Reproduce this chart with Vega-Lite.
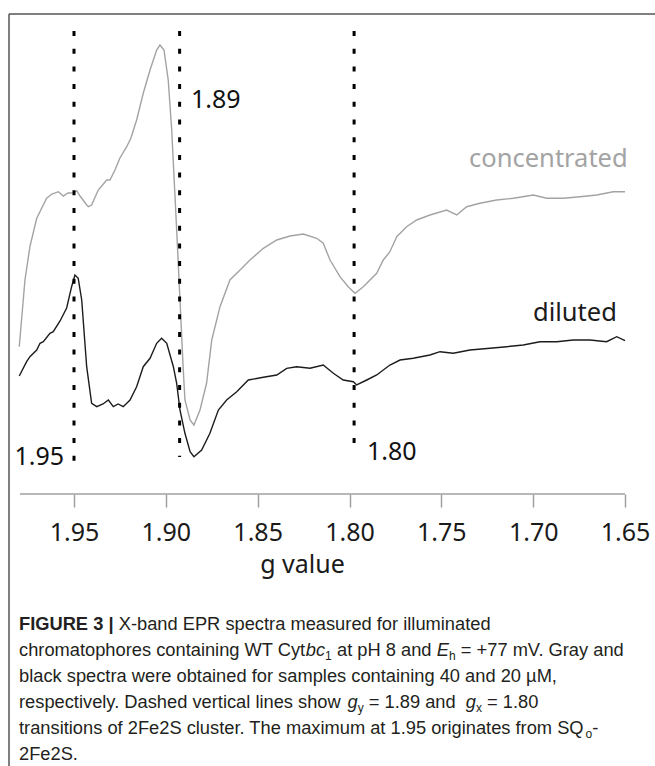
{
  "$schema": "https://vega.github.io/schema/vega-lite/v6.json",
  "width": 646,
  "height": 752,
  "autosize": {"type": "none"},
  "padding": {"left": 9, "top": 14, "right": 0, "bottom": 0},
  "background": "white",
  "config": {"view": {"stroke": null}},
  "datasets": {
    "spectra": [
      {"sample": "concentrated", "g": 1.9798, "intensity": 147.3},
      {"sample": "concentrated", "g": 1.9767, "intensity": 214},
      {"sample": "concentrated", "g": 1.9740, "intensity": 247.3},
      {"sample": "concentrated", "g": 1.9703, "intensity": 275.7},
      {"sample": "concentrated", "g": 1.9649, "intensity": 295.7},
      {"sample": "concentrated", "g": 1.9620, "intensity": 300},
      {"sample": "concentrated", "g": 1.9585, "intensity": 302.3},
      {"sample": "concentrated", "g": 1.9558, "intensity": 298},
      {"sample": "concentrated", "g": 1.9533, "intensity": 301},
      {"sample": "concentrated", "g": 1.9500, "intensity": 301.3},
      {"sample": "concentrated", "g": 1.9485, "intensity": 303.3},
      {"sample": "concentrated", "g": 1.9467, "intensity": 298},
      {"sample": "concentrated", "g": 1.9431, "intensity": 289},
      {"sample": "concentrated", "g": 1.9422, "intensity": 287.3},
      {"sample": "concentrated", "g": 1.9404, "intensity": 289},
      {"sample": "concentrated", "g": 1.9368, "intensity": 304},
      {"sample": "concentrated", "g": 1.9322, "intensity": 314},
      {"sample": "concentrated", "g": 1.9304, "intensity": 314},
      {"sample": "concentrated", "g": 1.9277, "intensity": 324},
      {"sample": "concentrated", "g": 1.9250, "intensity": 336},
      {"sample": "concentrated", "g": 1.9213, "intensity": 347.3},
      {"sample": "concentrated", "g": 1.9190, "intensity": 356},
      {"sample": "concentrated", "g": 1.9159, "intensity": 374},
      {"sample": "concentrated", "g": 1.9123, "intensity": 400.7},
      {"sample": "concentrated", "g": 1.9086, "intensity": 424},
      {"sample": "concentrated", "g": 1.9050, "intensity": 444},
      {"sample": "concentrated", "g": 1.9032, "intensity": 449},
      {"sample": "concentrated", "g": 1.9010, "intensity": 444},
      {"sample": "concentrated", "g": 1.8987, "intensity": 414},
      {"sample": "concentrated", "g": 1.8968, "intensity": 364},
      {"sample": "concentrated", "g": 1.8950, "intensity": 297.3},
      {"sample": "concentrated", "g": 1.8941, "intensity": 264},
      {"sample": "concentrated", "g": 1.8923, "intensity": 194},
      {"sample": "concentrated", "g": 1.8905, "intensity": 124},
      {"sample": "concentrated", "g": 1.8896, "intensity": 94},
      {"sample": "concentrated", "g": 1.8868, "intensity": 74},
      {"sample": "concentrated", "g": 1.8847, "intensity": 69},
      {"sample": "concentrated", "g": 1.8814, "intensity": 84},
      {"sample": "concentrated", "g": 1.8778, "intensity": 111},
      {"sample": "concentrated", "g": 1.8750, "intensity": 154},
      {"sample": "concentrated", "g": 1.8705, "intensity": 187.3},
      {"sample": "concentrated", "g": 1.8651, "intensity": 214},
      {"sample": "concentrated", "g": 1.8596, "intensity": 224},
      {"sample": "concentrated", "g": 1.8542, "intensity": 234},
      {"sample": "concentrated", "g": 1.8469, "intensity": 245.7},
      {"sample": "concentrated", "g": 1.8396, "intensity": 254},
      {"sample": "concentrated", "g": 1.8324, "intensity": 258},
      {"sample": "concentrated", "g": 1.8252, "intensity": 260},
      {"sample": "concentrated", "g": 1.8179, "intensity": 255.7},
      {"sample": "concentrated", "g": 1.8143, "intensity": 250.7},
      {"sample": "concentrated", "g": 1.8106, "intensity": 234},
      {"sample": "concentrated", "g": 1.8052, "intensity": 217.3},
      {"sample": "concentrated", "g": 1.8007, "intensity": 207.3},
      {"sample": "concentrated", "g": 1.7970, "intensity": 200.7},
      {"sample": "concentrated", "g": 1.7925, "intensity": 207.3},
      {"sample": "concentrated", "g": 1.7852, "intensity": 220.7},
      {"sample": "concentrated", "g": 1.7816, "intensity": 234},
      {"sample": "concentrated", "g": 1.7780, "intensity": 242.3},
      {"sample": "concentrated", "g": 1.7743, "intensity": 257.3},
      {"sample": "concentrated", "g": 1.7689, "intensity": 267.3},
      {"sample": "concentrated", "g": 1.7634, "intensity": 274},
      {"sample": "concentrated", "g": 1.7562, "intensity": 279},
      {"sample": "concentrated", "g": 1.7471, "intensity": 284},
      {"sample": "concentrated", "g": 1.7416, "intensity": 279},
      {"sample": "concentrated", "g": 1.7362, "intensity": 287.3},
      {"sample": "concentrated", "g": 1.7290, "intensity": 290.7},
      {"sample": "concentrated", "g": 1.7199, "intensity": 294},
      {"sample": "concentrated", "g": 1.7108, "intensity": 295.7},
      {"sample": "concentrated", "g": 1.6999, "intensity": 299},
      {"sample": "concentrated", "g": 1.6926, "intensity": 295.7},
      {"sample": "concentrated", "g": 1.6836, "intensity": 295.7},
      {"sample": "concentrated", "g": 1.6745, "intensity": 297.3},
      {"sample": "concentrated", "g": 1.6654, "intensity": 299},
      {"sample": "concentrated", "g": 1.6564, "intensity": 302.3},
      {"sample": "concentrated", "g": 1.6500, "intensity": 302.3},
      {"sample": "diluted", "g": 1.9798, "intensity": 118},
      {"sample": "diluted", "g": 1.9758, "intensity": 132.3},
      {"sample": "diluted", "g": 1.9740, "intensity": 137.3},
      {"sample": "diluted", "g": 1.9703, "intensity": 144},
      {"sample": "diluted", "g": 1.9685, "intensity": 150.7},
      {"sample": "diluted", "g": 1.9667, "intensity": 152.3},
      {"sample": "diluted", "g": 1.9631, "intensity": 160.7},
      {"sample": "diluted", "g": 1.9613, "intensity": 162.3},
      {"sample": "diluted", "g": 1.9576, "intensity": 173},
      {"sample": "diluted", "g": 1.9540, "intensity": 186},
      {"sample": "diluted", "g": 1.9513, "intensity": 207.3},
      {"sample": "diluted", "g": 1.9495, "intensity": 219},
      {"sample": "diluted", "g": 1.9477, "intensity": 215.7},
      {"sample": "diluted", "g": 1.9458, "intensity": 194},
      {"sample": "diluted", "g": 1.9431, "intensity": 127.3},
      {"sample": "diluted", "g": 1.9404, "intensity": 90.7},
      {"sample": "diluted", "g": 1.9376, "intensity": 87.3},
      {"sample": "diluted", "g": 1.9342, "intensity": 90},
      {"sample": "diluted", "g": 1.9313, "intensity": 94},
      {"sample": "diluted", "g": 1.9286, "intensity": 87.3},
      {"sample": "diluted", "g": 1.9260, "intensity": 90},
      {"sample": "diluted", "g": 1.9232, "intensity": 87.3},
      {"sample": "diluted", "g": 1.9195, "intensity": 94},
      {"sample": "diluted", "g": 1.9159, "intensity": 107.3},
      {"sample": "diluted", "g": 1.9123, "intensity": 127.3},
      {"sample": "diluted", "g": 1.9086, "intensity": 135.7},
      {"sample": "diluted", "g": 1.9050, "intensity": 150.7},
      {"sample": "diluted", "g": 1.9023, "intensity": 155.7},
      {"sample": "diluted", "g": 1.8995, "intensity": 150.7},
      {"sample": "diluted", "g": 1.8959, "intensity": 127.3},
      {"sample": "diluted", "g": 1.8941, "intensity": 110.7},
      {"sample": "diluted", "g": 1.8923, "intensity": 84},
      {"sample": "diluted", "g": 1.8896, "intensity": 60.7},
      {"sample": "diluted", "g": 1.8868, "intensity": 42.3},
      {"sample": "diluted", "g": 1.8847, "intensity": 37.3},
      {"sample": "diluted", "g": 1.8805, "intensity": 44},
      {"sample": "diluted", "g": 1.8760, "intensity": 60.7},
      {"sample": "diluted", "g": 1.8714, "intensity": 84},
      {"sample": "diluted", "g": 1.8669, "intensity": 94},
      {"sample": "diluted", "g": 1.8614, "intensity": 102.3},
      {"sample": "diluted", "g": 1.8551, "intensity": 114},
      {"sample": "diluted", "g": 1.8469, "intensity": 116.7},
      {"sample": "diluted", "g": 1.8396, "intensity": 119},
      {"sample": "diluted", "g": 1.8342, "intensity": 125.7},
      {"sample": "diluted", "g": 1.8288, "intensity": 127.3},
      {"sample": "diluted", "g": 1.8215, "intensity": 125.7},
      {"sample": "diluted", "g": 1.8143, "intensity": 129},
      {"sample": "diluted", "g": 1.8088, "intensity": 120.7},
      {"sample": "diluted", "g": 1.8034, "intensity": 114},
      {"sample": "diluted", "g": 1.7979, "intensity": 112.3},
      {"sample": "diluted", "g": 1.7961, "intensity": 109},
      {"sample": "diluted", "g": 1.7906, "intensity": 114},
      {"sample": "diluted", "g": 1.7852, "intensity": 119},
      {"sample": "diluted", "g": 1.7780, "intensity": 129},
      {"sample": "diluted", "g": 1.7725, "intensity": 134},
      {"sample": "diluted", "g": 1.7653, "intensity": 135.7},
      {"sample": "diluted", "g": 1.7562, "intensity": 139},
      {"sample": "diluted", "g": 1.7507, "intensity": 142.3},
      {"sample": "diluted", "g": 1.7435, "intensity": 140.7},
      {"sample": "diluted", "g": 1.7344, "intensity": 144},
      {"sample": "diluted", "g": 1.7235, "intensity": 145.7},
      {"sample": "diluted", "g": 1.7144, "intensity": 147.3},
      {"sample": "diluted", "g": 1.7054, "intensity": 149},
      {"sample": "diluted", "g": 1.6963, "intensity": 152.3},
      {"sample": "diluted", "g": 1.6872, "intensity": 152.3},
      {"sample": "diluted", "g": 1.6782, "intensity": 154},
      {"sample": "diluted", "g": 1.6691, "intensity": 154},
      {"sample": "diluted", "g": 1.6600, "intensity": 152.3},
      {"sample": "diluted", "g": 1.6545, "intensity": 157.3},
      {"sample": "diluted", "g": 1.6500, "intensity": 153.3}
    ],
    "markers": [
      {"g": 1.95, "top": 463, "bottom": 30, "label": "1.95", "label_g": 1.9824, "label_y": 29},
      {"g": 1.8925, "top": 463, "bottom": 37, "label": "1.89", "label_g": 1.8863, "label_y": 386},
      {"g": 1.7975, "top": 463, "bottom": 39, "label": "1.80", "label_g": 1.7905, "label_y": 34}
    ],
    "series_labels": [
      {"sample": "concentrated", "g": 1.7349, "intensity": 327.3},
      {"sample": "diluted", "g": 1.7001, "intensity": 173}
    ]
  },
  "layer": [
    {
      "data": {"name": "spectra"},
      "mark": {"type": "line", "strokeWidth": 1.4, "clip": false},
      "encoding": {
        "x": {
          "field": "g",
          "type": "quantitative",
          "scale": {"domain": [1.63367, 1.98539], "reverse": true, "nice": false, "zero": false},
          "axis": {
            "values": [1.95, 1.9, 1.85, 1.8, 1.75, 1.7, 1.65],
            "format": ".2f",
            "domain": false,
            "grid": false,
            "offset": -272,
            "tickSize": 13,
            "tickColor": "#a0a0a0",
            "tickWidth": 1.5,
            "labelFont": "Noto Sans",
            "labelFontSize": 25,
            "labelColor": "#1a1a1a",
            "labelPadding": 33,
            "labelBaseline": "alphabetic",
            "labelFlush": false,
            "labelOverlap": false,
            "title": "g value",
            "titleFont": "Noto Sans",
            "titleFontSize": 25,
            "titleFontWeight": "normal",
            "titleColor": "#1a1a1a",
            "titleX": 293,
            "titleY": 78,
            "titleBaseline": "alphabetic",
            "titleAlign": "center"
          }
        },
        "y": {
          "field": "intensity",
          "type": "quantitative",
          "scale": {"domain": [-272, 480], "nice": false, "zero": false},
          "axis": null
        },
        "color": {
          "field": "sample",
          "type": "nominal",
          "scale": {"domain": ["concentrated", "diluted"], "range": ["#a3a3a3", "#1c1c1c"]},
          "legend": null
        }
      }
    },
    {
      "data": {"values": [{}]},
      "mark": {"type": "rule", "color": "#555555", "strokeWidth": 1.5, "clip": false},
      "encoding": {
        "x": {"datum": 1.98539, "type": "quantitative"},
        "x2": {"datum": 1.63367},
        "y": {"datum": 480, "type": "quantitative"}
      }
    },
    {
      "data": {"values": [{}]},
      "mark": {"type": "rule", "color": "#555555", "strokeWidth": 1.5, "clip": false},
      "encoding": {
        "x": {"datum": 1.98539, "type": "quantitative"},
        "y": {"datum": 480, "type": "quantitative"},
        "y2": {"datum": -272}
      }
    },
    {
      "data": {"values": [{}]},
      "mark": {"type": "rule", "color": "#a0a0a0", "strokeWidth": 1.5},
      "encoding": {
        "x": {"datum": 1.9794, "type": "quantitative"},
        "x2": {"datum": 1.65},
        "y": {"datum": 0, "type": "quantitative"}
      }
    },
    {
      "data": {"name": "markers"},
      "mark": {"type": "rule", "color": "#000000", "strokeWidth": 3, "strokeDash": [5, 12.7], "strokeCap": "butt"},
      "encoding": {
        "x": {"field": "g", "type": "quantitative"},
        "y": {"field": "top", "type": "quantitative"},
        "y2": {"field": "bottom"}
      }
    },
    {
      "data": {"name": "markers"},
      "mark": {"type": "text", "align": "left", "baseline": "alphabetic", "font": "Noto Sans", "fontSize": 25, "color": "#111111"},
      "encoding": {
        "x": {"field": "label_g", "type": "quantitative"},
        "y": {"field": "label_y", "type": "quantitative"},
        "text": {"field": "label"}
      }
    },
    {
      "data": {"name": "series_labels"},
      "mark": {"type": "text", "align": "left", "baseline": "alphabetic", "font": "Noto Sans", "fontSize": 25.5},
      "encoding": {
        "x": {"field": "g", "type": "quantitative"},
        "y": {"field": "intensity", "type": "quantitative"},
        "text": {"field": "sample"},
        "color": {"field": "sample", "type": "nominal", "legend": null}
      }
    },
    {
      "data": {"values": [{}]},
      "layer": [
        {"mark": {"type": "text", "align": "left", "baseline": "alphabetic", "font": "Liberation Sans", "fontSize": 18.3, "fontWeight": "bold", "color": "#231f20", "clip": false},
         "encoding": {"x": {"datum": 1.97995, "type": "quantitative"}, "y": {"datum": -136, "type": "quantitative"}, "text": {"value": "FIGURE 3 |"}}},
        {"mark": {"type": "text", "align": "left", "baseline": "alphabetic", "font": "Liberation Sans", "fontSize": 18.3, "color": "#231f20", "dx": 99.7, "clip": false},
         "encoding": {"x": {"datum": 1.97995, "type": "quantitative"}, "y": {"datum": -136, "type": "quantitative"}, "text": {"value": "X-band EPR spectra measured for illuminated"}}},
        {"mark": {"type": "text", "align": "left", "baseline": "alphabetic", "font": "Liberation Sans", "fontSize": 18.3, "color": "#231f20", "clip": false},
         "encoding": {"x": {"datum": 1.97995, "type": "quantitative"}, "y": {"datum": -162, "type": "quantitative"}, "text": {"value": "chromatophores containing WT Cyt"}}},
        {"mark": {"type": "text", "align": "left", "baseline": "alphabetic", "font": "Liberation Sans", "fontSize": 18.3, "fontStyle": "italic", "color": "#231f20", "dx": 286.8, "clip": false},
         "encoding": {"x": {"datum": 1.97995, "type": "quantitative"}, "y": {"datum": -162, "type": "quantitative"}, "text": {"value": "bc"}}},
        {"mark": {"type": "text", "align": "left", "baseline": "alphabetic", "font": "Liberation Sans", "fontSize": 12, "color": "#231f20", "dx": 306.1, "dy": 4, "clip": false},
         "encoding": {"x": {"datum": 1.97995, "type": "quantitative"}, "y": {"datum": -162, "type": "quantitative"}, "text": {"value": "1"}}},
        {"mark": {"type": "text", "align": "left", "baseline": "alphabetic", "font": "Liberation Sans", "fontSize": 18.3, "color": "#231f20", "dx": 318.0, "clip": false},
         "encoding": {"x": {"datum": 1.97995, "type": "quantitative"}, "y": {"datum": -162, "type": "quantitative"}, "text": {"value": "at pH 8 and"}}},
        {"mark": {"type": "text", "align": "left", "baseline": "alphabetic", "font": "Liberation Sans", "fontSize": 18.3, "fontStyle": "italic", "color": "#231f20", "dx": 417.8, "clip": false},
         "encoding": {"x": {"datum": 1.97995, "type": "quantitative"}, "y": {"datum": -162, "type": "quantitative"}, "text": {"value": "E"}}},
        {"mark": {"type": "text", "align": "left", "baseline": "alphabetic", "font": "Liberation Sans", "fontSize": 12, "color": "#231f20", "dx": 430.0, "dy": 4, "clip": false},
         "encoding": {"x": {"datum": 1.97995, "type": "quantitative"}, "y": {"datum": -162, "type": "quantitative"}, "text": {"value": "h"}}},
        {"mark": {"type": "text", "align": "left", "baseline": "alphabetic", "font": "Liberation Sans", "fontSize": 18.3, "color": "#231f20", "dx": 441.8, "clip": false},
         "encoding": {"x": {"datum": 1.97995, "type": "quantitative"}, "y": {"datum": -162, "type": "quantitative"}, "text": {"value": "= +77 mV. Gray and"}}},
        {"mark": {"type": "text", "align": "left", "baseline": "alphabetic", "font": "Liberation Sans", "fontSize": 18.3, "color": "#231f20", "clip": false},
         "encoding": {"x": {"datum": 1.97995, "type": "quantitative"}, "y": {"datum": -188, "type": "quantitative"}, "text": {"value": "black spectra were obtained for samples containing 40 and 20 µM,"}}},
        {"mark": {"type": "text", "align": "left", "baseline": "alphabetic", "font": "Liberation Sans", "fontSize": 18.3, "color": "#231f20", "clip": false},
         "encoding": {"x": {"datum": 1.97995, "type": "quantitative"}, "y": {"datum": -214, "type": "quantitative"}, "text": {"value": "respectively. Dashed vertical lines show"}}},
        {"mark": {"type": "text", "align": "left", "baseline": "alphabetic", "font": "Liberation Sans", "fontSize": 18.3, "fontStyle": "italic", "color": "#231f20", "dx": 328.5, "clip": false},
         "encoding": {"x": {"datum": 1.97995, "type": "quantitative"}, "y": {"datum": -214, "type": "quantitative"}, "text": {"value": "g"}}},
        {"mark": {"type": "text", "align": "left", "baseline": "alphabetic", "font": "Liberation Sans", "fontSize": 12, "color": "#231f20", "dx": 338.7, "dy": 4, "clip": false},
         "encoding": {"x": {"datum": 1.97995, "type": "quantitative"}, "y": {"datum": -214, "type": "quantitative"}, "text": {"value": "y"}}},
        {"mark": {"type": "text", "align": "left", "baseline": "alphabetic", "font": "Liberation Sans", "fontSize": 18.3, "color": "#231f20", "dx": 349.8, "clip": false},
         "encoding": {"x": {"datum": 1.97995, "type": "quantitative"}, "y": {"datum": -214, "type": "quantitative"}, "text": {"value": "= 1.89 and"}}},
        {"mark": {"type": "text", "align": "left", "baseline": "alphabetic", "font": "Liberation Sans", "fontSize": 18.3, "fontStyle": "italic", "color": "#231f20", "dx": 446.7, "clip": false},
         "encoding": {"x": {"datum": 1.97995, "type": "quantitative"}, "y": {"datum": -214, "type": "quantitative"}, "text": {"value": "g"}}},
        {"mark": {"type": "text", "align": "left", "baseline": "alphabetic", "font": "Liberation Sans", "fontSize": 12, "color": "#231f20", "dx": 456.9, "dy": 4, "clip": false},
         "encoding": {"x": {"datum": 1.97995, "type": "quantitative"}, "y": {"datum": -214, "type": "quantitative"}, "text": {"value": "x"}}},
        {"mark": {"type": "text", "align": "left", "baseline": "alphabetic", "font": "Liberation Sans", "fontSize": 18.3, "color": "#231f20", "dx": 468.1, "clip": false},
         "encoding": {"x": {"datum": 1.97995, "type": "quantitative"}, "y": {"datum": -214, "type": "quantitative"}, "text": {"value": "= 1.80"}}},
        {"mark": {"type": "text", "align": "left", "baseline": "alphabetic", "font": "Liberation Sans", "fontSize": 18.3, "color": "#231f20", "clip": false},
         "encoding": {"x": {"datum": 1.97995, "type": "quantitative"}, "y": {"datum": -240, "type": "quantitative"}, "text": {"value": "transitions of 2Fe2S cluster. The maximum at 1.95 originates from SQ"}}},
        {"mark": {"type": "text", "align": "left", "baseline": "alphabetic", "font": "Liberation Sans", "fontSize": 12, "color": "#231f20", "dx": 566.5, "dy": 4, "clip": false},
         "encoding": {"x": {"datum": 1.97995, "type": "quantitative"}, "y": {"datum": -240, "type": "quantitative"}, "text": {"value": "o"}}},
        {"mark": {"type": "text", "align": "left", "baseline": "alphabetic", "font": "Liberation Sans", "fontSize": 18.3, "color": "#231f20", "dx": 573.3, "clip": false},
         "encoding": {"x": {"datum": 1.97995, "type": "quantitative"}, "y": {"datum": -240, "type": "quantitative"}, "text": {"value": "-"}}},
        {"mark": {"type": "text", "align": "left", "baseline": "alphabetic", "font": "Liberation Sans", "fontSize": 18.3, "color": "#231f20", "clip": false},
         "encoding": {"x": {"datum": 1.97995, "type": "quantitative"}, "y": {"datum": -266, "type": "quantitative"}, "text": {"value": "2Fe2S."}}}
      ]
    }
  ]
}
